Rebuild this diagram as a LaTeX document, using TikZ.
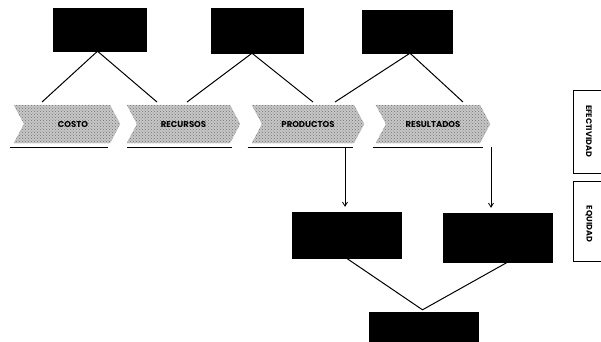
\documentclass[tikz,border=0pt]{standalone}
\usepackage{fontspec}
\newfontfamily\pop{Poppins}
\usetikzlibrary{shapes.symbols,arrows.meta,calc,patterns}
\begin{document}
\begin{tikzpicture}[x=1pt,y=-1pt,
  blackbox/.style={draw=black,fill=black,inner sep=0pt},
  chev/.style={signal,signal to=east,signal from=west,signal pointer angle=124,
    minimum height=38pt,inner sep=0pt,fill=black!22,draw=black!45,densely dotted,
    postaction={pattern=crosshatch dots,pattern color=black!55},
    font=\pop\bfseries\fontsize{8.5}{9}\selectfont},
  conn/.style={draw=black,line width=1pt},
  arr/.style={draw=black,line width=0.8pt,-{Straight Barb[length=4pt,width=5pt]}},
  ul/.style={draw=black,line width=1.1pt},
  side/.style={draw=black,line width=0.7pt},
  sidetext/.style={rotate=-90,font=\pop\bfseries\fontsize{8}{9}\selectfont,inner sep=0pt}]
\useasboundingbox[fill=white] (0,0) rectangle (601,341);
% top boxes
\node[blackbox,minimum width=93pt,minimum height=43pt] (t1) at (99.5,29.5) {};
\node[blackbox,minimum width=92pt,minimum height=45pt] (t2) at (257,30.5) {};
\node[blackbox,minimum width=90pt,minimum height=43pt] (t3) at (407,31.5) {};
% chevrons
\node[chev,minimum width=106pt] (c1) at (67,124) {\hspace*{12pt}COSTO};
\node[chev,minimum width=113pt] (c2) at (183.5,124) {RECURSOS};
\node[chev,minimum width=112pt] (c3) at (308,124) {PRODUCTOS};
\node[chev,minimum width=114pt] (c4) at (433,124) {RESULTADOS};
% underlines
\draw[ul] ($(c1.south west)+(-4,4)$) -- ($(c1.south west)+(94,4)$);
\draw[ul] ($(c2.south west)+(0,4)$) -- ($(c2.south west)+(105,4)$);
\draw[ul] ($(c3.south west)+(-4,4)$) -- ($(c3.south west)+(101,4)$);
\draw[ul] ($(c4.south west)+(-3,4)$) -- ($(c4.south west)+(107,4)$);
% top connectors
\coordinate (a1) at ($(t1.south)+(-2,0)$);
\coordinate (a2) at ($(t2.south)+(-5,0)$);
\coordinate (a3) at ($(t3.south)+(3,0)$);
\coordinate (e11) at (42,102);
\coordinate (e12) at (157,102);
\coordinate (e21) at (187,102);
\coordinate (e22) at (313,102);
\coordinate (e31) at (335,102);
\coordinate (e32) at (463,102);
\draw[conn] (e11) -- (a1) -- (e12);
\draw[conn] (e21) -- (a2) -- (e22);
\draw[conn] (e31) -- (a3) -- (e32);
% bottom boxes
\node[blackbox,minimum width=109pt,minimum height=46pt] (b4) at (346.5,235) {};
\node[blackbox,minimum width=109pt,minimum height=49pt] (b5) at (497.5,237.5) {};
\node[blackbox,minimum width=109pt,minimum height=34pt] (b6) at (423.5,329) {};
% arrows
\coordinate (s3) at (345,147);
\coordinate (s4) at (491,147);
\draw[arr,shorten >=5pt] (s3) -- (s3 |- b4.north);
\draw[arr,shorten >=5pt] (s4) -- (s4 |- b5.north);
% bottom connectors
\coordinate (bap) at ($(b6.north)+(-1,-2)$);
\draw[conn] (b4.south) -- (bap) -- ($(b5.south)+(10,0)$);
% side boxes
\coordinate (ef1) at (605,90);
\coordinate (ef2) at (573,90);
\coordinate (ef3) at (573,173);
\coordinate (ef4) at (605,173);
\draw[side] (ef1) -- (ef2) -- (ef3) -- (ef4);
\node[sidetext] (ef) at (589,131) {EFECTIVIDAD};
\coordinate (eq1) at (605,181);
\coordinate (eq2) at (573,181);
\coordinate (eq3) at (573,261);
\coordinate (eq4) at (605,261);
\draw[side] (eq1) -- (eq2) -- (eq3) -- (eq4);
\node[sidetext] (eq) at (589,224) {EQUIDAD};
\end{tikzpicture}
\end{document}
